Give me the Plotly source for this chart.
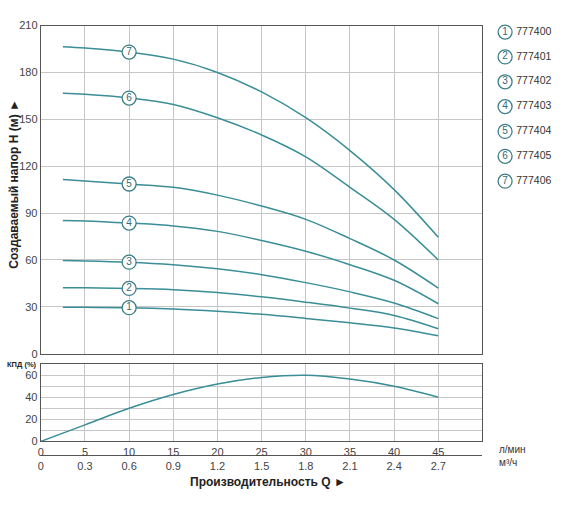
import plotly.graph_objects as go

# Flow, L/min
Q = [2.5, 5, 10, 15, 20, 25, 30, 35, 40, 45]
H1 = [29.8, 29.7, 29.5, 28.7, 27.2, 25.2, 22.6, 19.8, 16.5, 11.5]
H2 = [42.3, 42.2, 41.8, 41.0, 39.2, 36.4, 33.0, 29.2, 24.5, 16.0]
H3 = [59.6, 59.4, 58.6, 57.0, 54.4, 50.6, 45.5, 39.6, 32.5, 22.5]
H4 = [85.3, 85.0, 83.6, 81.8, 78.3, 72.5, 65.6, 57.0, 47.0, 32.0]
H5 = [111.5, 110.6, 108.6, 106.5, 101.5, 94.5, 86.0, 73.7, 60.0, 42.0]
H6 = [166.7, 166.0, 163.6, 159.5, 151.0, 140.0, 126.0, 106.5, 86.0, 60.0]
H7 = [196.5, 195.6, 193.0, 188.5, 180.0, 167.5, 151.0, 130.0, 105.0, 74.5]
curves = [H1, H2, H3, H4, H5, H6, H7]
curve_nums = ["1", "2", "3", "4", "5", "6", "7"]
codes = ["777400", "777401", "777402", "777403", "777404", "777405", "777406"]
label_q = 10  # flow at which the circled numbers sit

# Efficiency
QE = [0, 5, 10, 15, 20, 25, 30, 35, 40, 45]
EFF = [0, 15, 30, 42.5, 52, 58, 60, 56.5, 50, 40]

# Tick labels
q_ticks = [0, 5, 10, 15, 20, 25, 30, 35, 40, 45]
m3h_labels = ["0", "0.3", "0.6", "0.9", "1.2", "1.5", "1.8", "2.1", "2.4", "2.7"]

LINE = "#3a8e97"
RING = "#3d7f87"
NUMC = "#2f6c73"
GRID = "#c6c6c6"
AXC = "#555555"
TXT = "#444444"
FONT = "Arial, Liberation Sans, sans-serif"

W, H = 570, 518
def px(x): return x / W
def py(y): return 1 - y / H

fig = go.Figure()

for h in curves:
    fig.add_trace(go.Scatter(x=Q, y=h, mode="lines", line=dict(color=LINE, width=1.5, shape="spline", smoothing=1.0),
                             xaxis="x", yaxis="y", showlegend=False, hoverinfo="skip"))

idx = Q.index(label_q)
fig.add_trace(go.Scatter(x=[label_q] * len(curves), y=[h[idx] for h in curves], mode="markers+text",
                         text=curve_nums, textposition="middle center",
                         textfont=dict(size=10, color=NUMC, family=FONT),
                         marker=dict(size=14, color="white", line=dict(color=RING, width=1.3)),
                         xaxis="x", yaxis="y", showlegend=False, hoverinfo="skip"))

fig.add_trace(go.Scatter(x=QE, y=EFF, mode="lines", line=dict(color=LINE, width=1.5, shape="spline", smoothing=1.0),
                         xaxis="x2", yaxis="y2", showlegend=False, hoverinfo="skip"))

# dummy trace for m3/h axis
fig.add_trace(go.Scatter(x=[None], y=[None], xaxis="x3", yaxis="y2", showlegend=False, hoverinfo="skip"))

# legend block
leg_idx = list(range(1, len(codes) + 1))
fig.add_trace(go.Scatter(x=[0.13] * len(codes), y=leg_idx, mode="markers+text",
                         text=curve_nums, textposition="middle center",
                         textfont=dict(size=10, color=NUMC, family=FONT),
                         marker=dict(size=14, color="white", line=dict(color=RING, width=1.3)),
                         xaxis="x4", yaxis="y3", showlegend=False, hoverinfo="skip"))
fig.add_trace(go.Scatter(x=[0.28] * len(codes), y=leg_idx, mode="text",
                         text=codes, textposition="middle right",
                         textfont=dict(size=10.5, color="#333333", family=FONT),
                         xaxis="x4", yaxis="y3", showlegend=False, hoverinfo="skip"))

xdom = [px(38), px(482)]
common_x = dict(range=[0, 50], tickvals=q_ticks, showgrid=True, gridcolor=GRID, gridwidth=1,
                showline=True, linecolor=AXC, linewidth=1.2, mirror=True, zeroline=False, ticks="",
                tickfont=dict(size=11, color=TXT, family=FONT))

fig.update_layout(
    width=W, height=H, margin=dict(l=0, r=0, t=0, b=0),
    paper_bgcolor="white", plot_bgcolor="white", font=dict(family=FONT),
    xaxis=dict(domain=xdom, anchor="y", showticklabels=False, **common_x),
    yaxis=dict(domain=[py(356), py(20)], range=[0, 210], dtick=30, showgrid=True, gridcolor=GRID,
               showline=True, linecolor=AXC, linewidth=1.2, mirror=True, zeroline=False, ticks="",
               tickfont=dict(size=11, color=TXT, family=FONT), anchor="x"),
    xaxis2=dict(domain=xdom, anchor="y2", **common_x),
    yaxis2=dict(domain=[py(445.7), py(366.7)], range=[0, 70], tickvals=[0, 20, 40, 60], showgrid=True,
                gridcolor=GRID, minor=dict(dtick=10, showgrid=True, gridcolor=GRID),
                showline=True, linecolor=AXC, linewidth=1.2, mirror=True, zeroline=False, ticks="",
                tickfont=dict(size=11, color=TXT, family=FONT), anchor="x2"),
    xaxis3=dict(domain=xdom, anchor="free", position=py(460), overlaying="x2", range=[0, 50],
                tickvals=q_ticks, ticktext=m3h_labels, showgrid=False, showline=True, linecolor=AXC,
                linewidth=1.2, zeroline=False, ticks="", side="bottom",
                tickfont=dict(size=11, color=TXT, family=FONT)),
    xaxis4=dict(domain=[px(495), 1.0], range=[0, 1], visible=False, anchor="y3"),
    yaxis3=dict(domain=[py(192), py(14)], range=[7.5, 0.5], visible=False, anchor="x4"),
)

fig.add_annotation(text="<b>Создаваемый напор H (м) ►</b>", x=px(11), y=py(182), xref="paper", yref="paper",
                   textangle=-90, showarrow=False, font=dict(size=12, color="#222222", family=FONT),
                   xanchor="center", yanchor="middle")
fig.add_annotation(text="<b>Производительность Q ►</b>", x=px(266), y=py(487), xref="paper", yref="paper",
                   showarrow=False, font=dict(size=12, color="#222222", family=FONT),
                   xanchor="center", yanchor="middle")
fig.add_annotation(text="<b>КПД (%)</b>", x=px(19), y=py(366.5), xref="paper", yref="paper",
                   showarrow=False, font=dict(size=7.5, color="#222222", family=FONT),
                   xanchor="center", yanchor="middle")
fig.add_annotation(text="л/мин", x=px(497), y=py(454), xref="paper", yref="paper",
                   showarrow=False, font=dict(size=10, color="#333333", family=FONT),
                   xanchor="left", yanchor="middle")
fig.add_annotation(text="м³/ч", x=px(497), y=py(467), xref="paper", yref="paper",
                   showarrow=False, font=dict(size=10, color="#333333", family=FONT),
                   xanchor="left", yanchor="middle")

fig.write_html("out.html", config={"displayModeBar": False},
               post_script="document.body.style.margin='0';document.body.style.overflow='hidden';")
